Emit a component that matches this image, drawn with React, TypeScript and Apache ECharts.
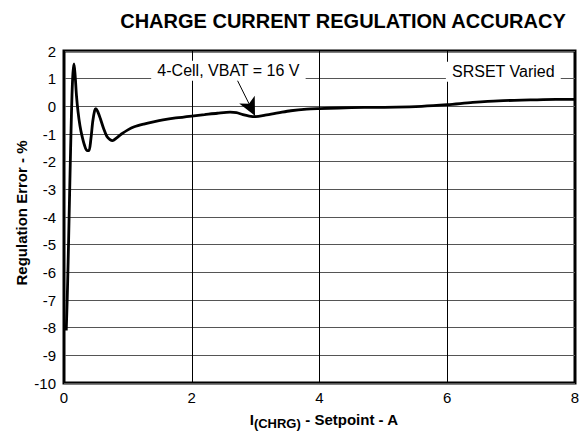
import React, { useEffect, useRef } from "react";
import * as echarts from "echarts";

const currentA = [
  0.035, 0.05, 0.065, 0.08, 0.095, 0.11, 0.125, 0.14, 0.157, 0.175, 0.195, 0.22, 0.25, 0.28,
  0.32, 0.36, 0.39, 0.42, 0.45, 0.48, 0.5, 0.53, 0.57, 0.62, 0.67, 0.72, 0.76, 0.82, 0.9, 1.0,
  1.1, 1.25, 1.4, 1.55, 1.75, 2.0, 2.2, 2.4, 2.6, 2.7, 2.8, 2.9, 3.0, 3.15, 3.35, 3.55, 3.8,
  4.0, 4.3, 4.7, 5.2, 5.6, 6.0, 6.4, 6.8, 7.3, 7.7, 8.0,
];
const errorPct = [
  -8.1, -7.0, -5.6, -4.0, -2.4, -0.9, 0.4, 1.2, 1.53, 1.1, 0.4, -0.2, -0.7, -1.05,
  -1.4, -1.6, -1.6, -1.2, -0.55, -0.15, -0.08, -0.2, -0.45, -0.8, -1.08, -1.2, -1.24, -1.15, -1.0, -0.85,
  -0.74, -0.64, -0.56, -0.49, -0.42, -0.35, -0.3, -0.25, -0.21, -0.23, -0.3, -0.35, -0.37, -0.32, -0.24, -0.16, -0.1,
  -0.08, -0.06, -0.04, -0.03, 0.0, 0.06, 0.14, 0.2, 0.23, 0.25, 0.25,
];
const xTicks = [0, 2, 4, 6, 8];
const yTicks = [2, 1, 0, -1, -2, -3, -4, -5, -6, -7, -8, -9, -10];

const titleText = "CHARGE CURRENT REGULATION ACCURACY";
const yName = "Regulation Error - %";
const noteCell = "4-Cell, VBAT = 16 V";
const noteSrset = "SRSET Varied";
const noteCellPos = [2.574, 1.29];
const noteSrsetPos = [6.878, 1.25];
const arrowFrom = [2.71, 0.96];
const arrowTo = [2.99, -0.34];

const FONT = "'Liberation Sans', Arial, Helvetica, sans-serif";

export default function App() {
  const ref = useRef<HTMLDivElement>(null);
  useEffect(() => {
    if (!ref.current) return;
    const chart = echarts.init(ref.current, undefined, { renderer: "svg" });
    const data = currentA.map((x, i) => [x, errorPct[i]]);
    const noteLabel = {
      show: true,
      position: "inside",
      color: "#000",
      fontFamily: FONT,
      fontSize: 16,
      backgroundColor: "#fff",
      padding: [2, 6, 2, 6],
    };
    chart.setOption({
      animation: false,
      backgroundColor: "#fff",
      textStyle: { fontFamily: FONT },
      title: {
        text: titleText,
        left: 338,
        textAlign: "center",
        top: 6,
        textStyle: { fontFamily: FONT, fontSize: 20, fontWeight: "bold", color: "#000" },
      },
      grid: {
        left: 64,
        right: 10,
        top: 51,
        bottom: 55,
        show: true,
        borderColor: "#000",
        borderWidth: 3,
        backgroundColor: "transparent",
      },
      xAxis: {
        type: "value",
        min: xTicks[0],
        max: xTicks[xTicks.length - 1],
        interval: 2,
        axisLine: { show: false },
        axisTick: { show: false },
        axisLabel: { color: "#000", fontSize: 15, fontFamily: FONT, margin: 7 },
        splitLine: { show: true, lineStyle: { color: "#000", width: 1 } },
      },
      yAxis: {
        type: "value",
        min: yTicks[yTicks.length - 1],
        max: yTicks[0],
        interval: 1,
        axisLine: { show: false },
        axisTick: { show: false },
        axisLabel: { color: "#000", fontSize: 15, fontFamily: FONT, margin: 8 },
        splitLine: { show: true, lineStyle: { color: "#555", width: 1 } },
      },
      graphic: [
        {
          type: "text",
          x: 21,
          y: 213,
          rotation: Math.PI / 2,
          style: {
            text: yName,
            fill: "#000",
            font: `bold 15px ${FONT}`,
            align: "center",
            verticalAlign: "middle",
          },
        },
        {
          type: "text",
          x: 324,
          y: 421,
          style: {
            text: "{m|I}{s|(CHRG)}{m| - Setpoint - A}",
            align: "center",
            verticalAlign: "middle",
            fill: "#000",
            rich: {
              m: { fontFamily: FONT, fontSize: 15, fontWeight: "bold", fill: "#000", verticalAlign: "top", lineHeight: 18 },
              s: { fontFamily: FONT, fontSize: 13, fontWeight: "bold", fill: "#000", verticalAlign: "bottom", padding: [8, 0, 0, 0], lineHeight: 18 },
            },
          },
        },
      ],
      series: [
        {
          type: "line",
          data,
          smooth: 0.3,
          showSymbol: false,
          lineStyle: { color: "#000", width: 2.8 },
          z: 5,
          markLine: {
            silent: true,
            symbol: ["none", "arrow"],
            symbolSize: [13, 18],
            lineStyle: { color: "#000", width: 1, type: "solid" },
            label: { show: false },
            data: [[{ coord: arrowFrom }, { coord: arrowTo }]],
          },
          markPoint: {
            silent: true,
            symbol: "rect",
            symbolSize: 1,
            itemStyle: { color: "rgba(0,0,0,0)" },
            data: [
              { coord: noteCellPos, label: { ...noteLabel, formatter: noteCell } },
              { coord: noteSrsetPos, label: { ...noteLabel, formatter: noteSrset } },
            ],
          },
        },
      ],
    });
    return () => chart.dispose();
  }, []);
  return <div ref={ref} style={{ width: 585, height: 438, position: "absolute", left: 0, top: 0 }} />;
}
